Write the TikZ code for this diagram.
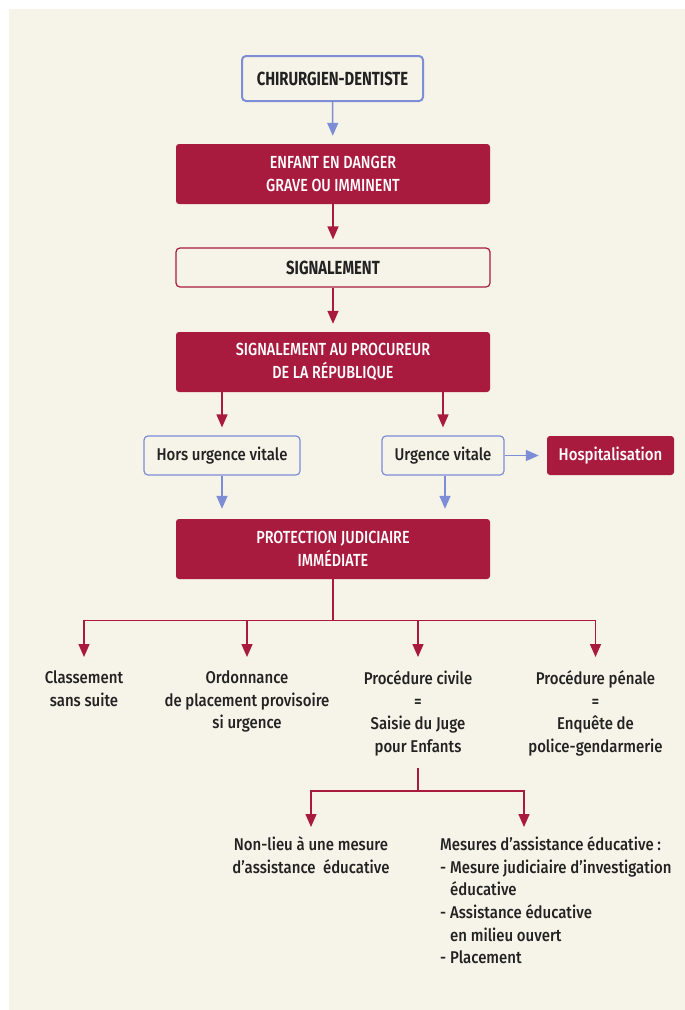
\documentclass[tikz,border=0pt]{standalone}
\usepackage{fontspec}
\setmainfont{Fira Sans}[UprightFont=* Medium, BoldFont=* Bold, FakeStretch=0.88]
\newfontfamily\capsfont{Fira Sans}[UprightFont=* Medium, BoldFont=* Bold, FakeStretch=0.82]
\newfontfamily\boldcapsfont{Fira Sans}[UprightFont=* Bold, BoldFont=* Bold, FakeStretch=0.78]
\usetikzlibrary{arrows.meta}
\definecolor{bgcream}{RGB}{246,243,232}
\definecolor{wine}{RGB}{169,27,62}
\definecolor{periw}{RGB}{125,141,214}
\definecolor{ink}{RGB}{34,34,34}
\begin{document}
\begin{tikzpicture}[x=1pt,y=-1pt,
  bodytext/.style={font=\fontsize{17}{22.6}\selectfont, text=ink, align=center, inner sep=0pt},
  redbox/.style={fill=wine, draw=none, rounded corners=3pt, text=white,
    font=\capsfont\fontsize{17.5}{22.7}\selectfont, align=center,
    minimum width=314pt, minimum height=60pt, inner sep=0pt},
  outlinebox/.style={fill=bgcream, rounded corners=4pt, text=ink, align=center, inner sep=0pt},
  bluebox/.style={outlinebox, draw=periw, line width=1.2pt, font=\fontsize{17}{22.6}\selectfont},
  redarr/.style={draw=wine, line width=1.5pt, -{Triangle[length=13pt,width=11pt]}, shorten >=8pt},
  bluearr/.style={draw=periw, line width=1.5pt, -{Triangle[length=13pt,width=11pt]}, shorten >=8pt},
  redline/.style={draw=wine, line width=1.5pt}
]
\useasboundingbox (0,0) rectangle (685,1010);
\fill[white] (0,0) rectangle (685,1010);
\fill[bgcream] (9,9) rectangle (685,1010);

% top chain
\node[outlinebox, draw=periw, line width=2pt, minimum width=181pt, minimum height=45pt,
      font=\boldcapsfont\fontsize{19}{22}\selectfont] (chir) at (332.5,78.5) {CHIRURGIEN-DENTISTE};
\node[redbox] (enfant) at (333,174) {ENFANT EN DANGER\\GRAVE OU IMMINENT};
\node[outlinebox, draw=wine, line width=1.2pt, minimum width=314pt, minimum height=39pt,
      font=\boldcapsfont\fontsize{19}{22}\selectfont] (sig) at (333,267.5) {SIGNALEMENT};
\node[redbox] (proc) at (333,362) {SIGNALEMENT AU PROCUREUR\\DE LA RÉPUBLIQUE};

\node[bluebox, minimum width=156pt, minimum height=39pt] (hors) at (222,455.5) {Hors urgence vitale};
\node[bluebox, minimum width=122pt, minimum height=39pt] (urg) at (443,455.5) {Urgence vitale};
\node[fill=wine, rounded corners=3pt, text=white, inner sep=0pt, minimum width=127pt, minimum height=39pt,
      font=\fontsize{17}{22.6}\selectfont] (hosp) at (610.5,455.5) {Hospitalisation};

\node[redbox] (prot) at (333,549) {PROTECTION JUDICIAIRE\\IMMÉDIATE};

% outcomes
\node[bodytext, anchor=north] (classe) at (84,670.5) {Classement\\sans suite};
\node[bodytext, anchor=north] (ordo) at (247,670.5) {Ordonnance\\de placement provisoire\\si urgence};
\node[bodytext, anchor=north] (civile) at (418,670.5) {Procédure civile\\=\\Saisie du Juge\\pour Enfants};
\node[bodytext, anchor=north] (penale) at (595.5,670.5) {Procédure pénale\\=\\Enquête de\\police-gendarmerie};

\node[bodytext, anchor=north] (nonlieu) at (311,836.5) {Non-lieu à une mesure\\d’assistance~ éducative};
\node[bodytext, anchor=north west, align=left] (mes) at (440,836.5)
  {Mesures d’assistance éducative :\\
   \makebox[10pt][l]{-}Mesure judiciaire d’investigation\\
   \hspace*{10pt}éducative\\
   \makebox[10pt][l]{-}Assistance éducative\\
   \hspace*{10pt}en milieu ouvert\\
   \makebox[10pt][l]{-}Placement};

\coordinate (j1) at (333,620.5);
\coordinate (j2) at (418,768);
\coordinate (j3) at (418,791);

% connectors
\draw[bluearr] (chir) -- (enfant);
\draw[redarr] (enfant) -- (sig);
\draw[redarr] (sig) -- (proc);
\draw[redarr] (proc.south -| hors.north) -- (hors.north);
\draw[redarr] (proc.south -| urg.north) -- (urg.north);
\draw[bluearr] (urg.east) -- (hosp.west);
\draw[bluearr, shorten >=10pt] (hors.south) -- (hors.south |- prot.north);
\draw[bluearr, shorten >=10pt] ([xshift=2pt]urg.south) -- ([xshift=2pt]urg.south |- prot.north);

\draw[redline] (prot.south) -- (j1);
\draw[redarr, shorten >=13.5pt] (j1) -| (classe.north);
\draw[redarr, shorten >=13.5pt] (j1) -| (ordo.north);
\draw[redarr, shorten >=13.5pt] (j1) -| (civile.north);
\draw[redarr, shorten >=13.5pt] (j1) -| (penale.north);

\draw[redline] (j2) -- (j3);
\draw[redarr, shorten >=9.5pt] (j3) -| (nonlieu.north);
\draw[redarr, shorten >=9.5pt] (j3) -| ([xshift=84pt]mes.north west);
\end{tikzpicture}
\end{document}
